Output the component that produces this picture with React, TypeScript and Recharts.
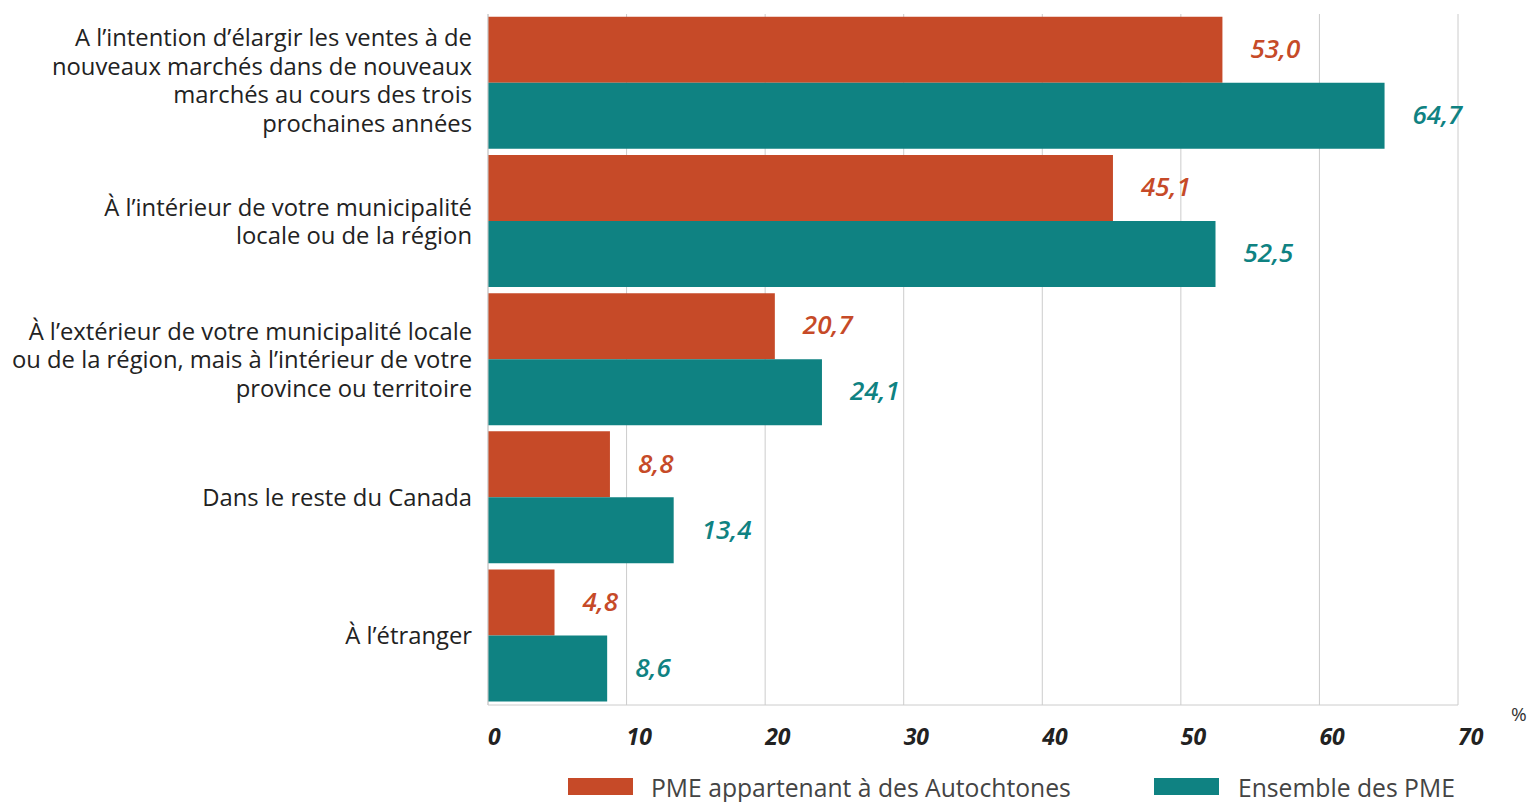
import React from 'react';
import { BarChart, Bar, XAxis, YAxis, CartesianGrid, LabelList } from 'recharts';

const categoryLines: string[][] = [
  ["A l’intention d’élargir les ventes à de", "nouveaux marchés dans de nouveaux", "marchés au cours des trois", "prochaines années"],
  ["À l’intérieur de votre municipalité", "locale ou de la région"],
  ["À l’extérieur de votre municipalité locale", "ou de la région, mais à l’intérieur de votre", "province ou territoire"],
  ["Dans le reste du Canada"],
  ["À l’étranger"],
];
const categories = ["cat1", "cat2", "cat3", "cat4", "cat5"];
const indigenousValues = [53.0, 45.1, 20.7, 8.8, 4.8];
const allValues = [64.7, 52.5, 24.1, 13.4, 8.6];
const xTicks = [0, 10, 20, 30, 40, 50, 60, 70];
const seriesNames = ["PME appartenant à des Autochtones", "Ensemble des PME"];

const ORANGE = '#C64A28';
const TEAL = '#0F8282';
const FONT = '"Open Sans", "Noto Sans", sans-serif';

const data = categories.map((c, i) => ({
  name: c,
  indig: indigenousValues[i],
  all: allValues[i],
}));

const fmt = (v: any) => Number(v).toFixed(1).replace('.', ',');

const YTick = (props: any) => {
  const { x, y, payload } = props;
  const idx = categories.indexOf(payload.value);
  const lines = categoryLines[idx] || [];
  const lh = 28.5;
  const start = y - ((lines.length - 1) * lh) / 2 + (lines.length > 3 ? -3 : -0.5);
  return (
    <text x={x} y={start} textAnchor="end" fontFamily={FONT} fontSize={23.8} fill="#222">
      {lines.map((l, i) => (
        <tspan key={i} x={x} y={start + i * lh} dominantBaseline="central">{l}</tspan>
      ))}
    </text>
  );
};

const XTick = (props: any) => {
  const { x, y, payload } = props;
  return (
    <text x={x} y={y + 31} textAnchor="start" dominantBaseline="central" fontFamily={FONT}
      fontSize={23} fontWeight={700} fontStyle="italic" fill="#222">
      {payload.value}
    </text>
  );
};

const PercentLabel = (props: any) => {
  const vb = props.viewBox || {};
  return (
    <text x={(vb.x || 0) + (vb.width || 0) + 53} y={(vb.y || 0) + 9} dominantBaseline="central"
      fontFamily={FONT} fontSize={19} fill="#333">%</text>
  );
};

const labelStyle = (color: string) => ({ fill: color, fontFamily: FONT, fontSize: 26, fontStyle: 'italic', fontWeight: 600 });

export default function App() {
  return (
    <div style={{ position: 'absolute', left: 0, top: 0, width: 1531, height: 802, background: '#fff' }}>
      <BarChart
        width={1531}
        height={802}
        data={data}
        layout="vertical"
        margin={{ top: 14, right: 73, bottom: 37, left: 0 }}
        barCategoryGap="2%"
        barGap={0}
      >
        <CartesianGrid horizontal={false} vertical={true} stroke="#cccccc" />
        <XAxis
          type="number"
          domain={[0, 70]}
          ticks={xTicks}
          interval={0}
          height={60}
          tickSize={0}
          tickMargin={0}
          axisLine={{ stroke: '#cccccc' }}
          tickLine={false}
          tick={<XTick />}
          label={<PercentLabel />}
        />
        <YAxis
          type="category"
          dataKey="name"
          width={488}
          tickSize={0}
          tickMargin={16}
          axisLine={{ stroke: '#cccccc' }}
          tickLine={false}
          tick={<YTick />}
          interval={0}
        />
        <Bar dataKey="indig" name={seriesNames[0]} fill={ORANGE} isAnimationActive={false}>
          <LabelList dataKey="indig" position="right" offset={28} formatter={fmt} dy={-1}
            style={labelStyle(ORANGE)} />
        </Bar>
        <Bar dataKey="all" name={seriesNames[1]} fill={TEAL} isAnimationActive={false}>
          <LabelList dataKey="all" position="right" offset={28} formatter={fmt} dy={-1}
            style={labelStyle(TEAL)} />
        </Bar>
      </BarChart>
      <div style={{ position: 'absolute', left: 568, top: 778, height: 17, width: 65, background: ORANGE }} />
      <div style={{ position: 'absolute', left: 651, top: 772, fontFamily: FONT, fontSize: 24.7, color: '#444', lineHeight: '32px', whiteSpace: 'nowrap' }}>{seriesNames[0]}</div>
      <div style={{ position: 'absolute', left: 1154, top: 778, height: 17, width: 65, background: TEAL }} />
      <div style={{ position: 'absolute', left: 1238, top: 772, fontFamily: FONT, fontSize: 24.7, color: '#444', lineHeight: '32px', whiteSpace: 'nowrap' }}>{seriesNames[1]}</div>
    </div>
  );
}
